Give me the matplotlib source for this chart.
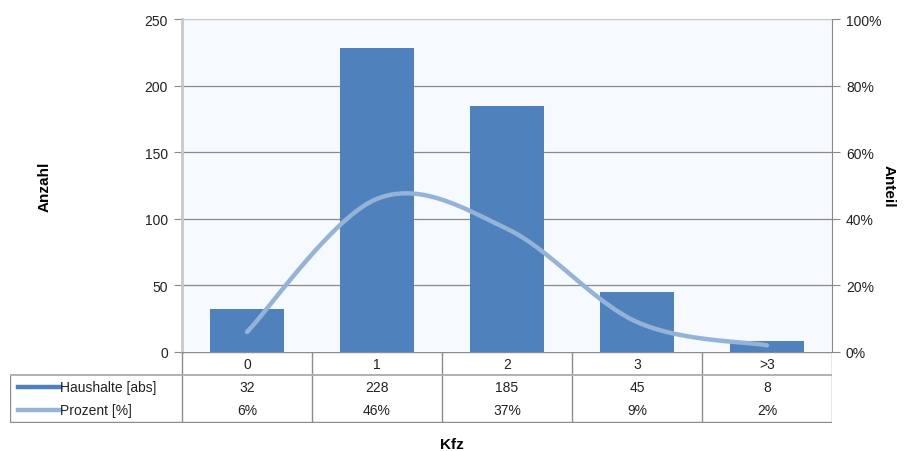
import numpy as np
import matplotlib.pyplot as plt
import matplotlib

matplotlib.rcParams['font.family'] = ['Liberation Sans', 'DejaVu Sans']
matplotlib.rcParams['font.size'] = 8

# Daten
kategorien = ['0', '1', '2', '3', '>3']
haushalte = [32, 228, 185, 45, 8]
prozent = [6, 46, 37, 9, 2]
reihen = ['Haushalte [abs]', 'Prozent [%]']

balken_farbe = '#4F81BD'
linien_farbe = '#95B3D7'
rahmen = '#8C8C8C'
W, H = 907, 452


def px(x0, y0, x1, y1):
    # Pixelrechteck -> Figure-Koordinaten
    return [x0 / W, 1 - y1 / H, (x1 - x0) / W, (y1 - y0) / H]


def glatt(xs, ys, n=30):
    # Kurve durch die Punkte (Catmull-Rom, wie "geglättete Linie")
    xs = np.asarray(xs, float); ys = np.asarray(ys, float)
    px_ = np.r_[xs[0], xs, xs[-1]]; py_ = np.r_[ys[0], ys, ys[-1]]
    ox, oy = [], []
    for i in range(1, len(xs)):
        p0, p1, p2, p3 = [np.array([px_[j], py_[j]]) for j in (i - 1, i, i + 1, i + 2)]
        c1 = p1 + (p2 - p0) / 6
        c2 = p2 - (p3 - p1) / 6
        t = np.linspace(0, 1, n)[:, None]
        b = (1 - t) ** 3 * p1 + 3 * (1 - t) ** 2 * t * c1 + 3 * (1 - t) * t ** 2 * c2 + t ** 3 * p2
        ox.extend(b[:, 0]); oy.extend(b[:, 1])
    return ox, oy


fig = plt.figure(figsize=(W / 100, H / 100), dpi=100)
fig.patch.set_facecolor('white')

ax = fig.add_axes(px(182, 20, 832, 353))
ax.set_facecolor('#F6F9FD')
x = np.arange(len(kategorien))
ax.bar(x, haushalte, width=0.57, color=balken_farbe, zorder=3)
ax.set_xlim(-0.5, len(kategorien) - 0.5)
ax.set_ylim(0, 250)
ax.set_yticks(range(0, 251, 50))
ax.set_xticks([])
# Gitterlinien (oberer Rand heller)
for v in range(50, 201, 50):
    ax.axhline(v, color='#8A8A8A', linewidth=0.9, zorder=0)
ax.axhline(250, color='#C8C8C8', linewidth=1, zorder=1)
ax.tick_params(axis='y', length=6, color='#8A8A8A', pad=4, labelsize=10, labelcolor='#222222')
for s in ('top', 'right', 'bottom'):
    ax.spines[s].set_visible(False)
ax.spines['left'].set_color('#C8C8C8')
ax.spines['left'].set_linewidth(2)
ax.set_ylabel('Anzahl', fontsize=11, fontweight='bold', labelpad=67)

ax2 = ax.twinx()
gx, gy = glatt(x, prozent)
ax2.plot(gx, gy, color=linien_farbe, linewidth=3.2, solid_capstyle='round', zorder=4)
ax2.set_ylim(0, 100)
ax2.set_yticks(range(0, 101, 20))
ax2.set_yticklabels([f'{v}%' for v in range(0, 101, 20)])
ax2.tick_params(axis='y', length=6, color='#8A8A8A', pad=4, labelsize=10, labelcolor='#222222')
for s in ('top', 'left', 'bottom'):
    ax2.spines[s].set_visible(False)
ax2.spines['right'].set_color('#8A8A8A')
ax2.spines['right'].set_bounds(0, 100)
ax2.set_ylabel('Anteil', fontsize=11, fontweight='bold', rotation=-90, labelpad=10)

# Datentabelle unter dem Diagramm
tab = fig.add_axes(px(10, 353, 832, 424))
tab.set_xlim(10, 832)
tab.set_ylim(424, 353)
tab.axis('off')
spalten = np.linspace(182, 832, len(kategorien) + 1)
for sx in spalten:
    tab.plot([sx, sx], [353, 423], color=rahmen, linewidth=1)
tab.plot([10, 10], [376, 423], color=rahmen, linewidth=1)
tab.plot([182, 832], [353, 353], color=rahmen, linewidth=1)
tab.plot([10, 832], [376, 376], color='#B0B0B0', linewidth=1.4)
tab.plot([10, 832], [423, 423], color=rahmen, linewidth=1)

mitte = (spalten[:-1] + spalten[1:]) / 2
for i, k in enumerate(kategorien):
    tab.text(mitte[i], 365, k, ha='center', va='center', fontsize=10, color='#222222')
    tab.text(mitte[i], 388, str(haushalte[i]), ha='center', va='center', fontsize=10, color='#222222')
    tab.text(mitte[i], 411, f'{prozent[i]}%', ha='center', va='center', fontsize=10, color='#222222')

for zy, name, farbe in zip([388, 411], reihen, [balken_farbe, linien_farbe]):
    tab.plot([18, 60], [zy, zy], color=farbe, linewidth=3.2)
    tab.text(60, zy, name, ha='left', va='center', fontsize=10, color='#222222')

fig.text(452 / W, 1 - 445 / H, 'Kfz', ha='center', va='center', fontsize=11, fontweight='bold')

fig.savefig('out.png', dpi=100)
